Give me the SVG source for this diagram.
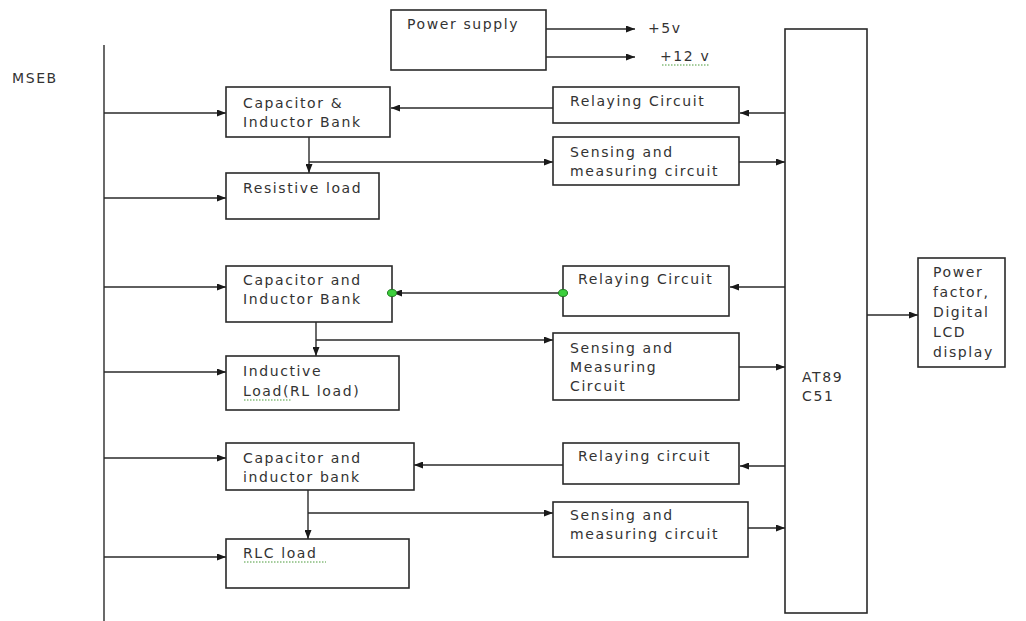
<svg xmlns="http://www.w3.org/2000/svg" width="1026" height="621" viewBox="0 0 1026 621">
<style>
.box{fill:#fff;stroke:#2a2a2a;stroke-width:1.6}
.t{font-family:"DejaVu Sans",sans-serif;font-size:14px;letter-spacing:1.6px;fill:#333}
.c{stroke:#2a2a2a;stroke-width:1.4;fill:none}
.arr{marker-end:url(#ah)}
.sq{stroke:#4a9a3a;stroke-width:1;stroke-dasharray:1.5 1.5;fill:none}
.dot{fill:#3ccf3c;stroke:#1f7a1f;stroke-width:1}
</style>
<defs>
<marker id="ah" markerWidth="9" markerHeight="7" refX="9" refY="3.5" orient="auto" markerUnits="userSpaceOnUse">
<path d="M0,0 L9,3.5 L0,7 Z" fill="#1a1a1a"/>
</marker>
</defs>
<rect width="1026" height="621" fill="#fff"/>
<text class="t" x="12" y="83">MSEB</text>
<g id="connectors">
<line class="c" x1="104" y1="45" x2="104" y2="621" stroke-width="2"/>
<line class="c arr" x1="104" y1="113" x2="226" y2="113"/>
<line class="c arr" x1="104" y1="198" x2="226" y2="198"/>
<line class="c arr" x1="104" y1="287" x2="226" y2="287"/>
<line class="c arr" x1="104" y1="372" x2="226" y2="372"/>
<line class="c arr" x1="104" y1="458" x2="226" y2="458"/>
<line class="c arr" x1="104" y1="557" x2="226" y2="557"/>
<line class="c arr" x1="546" y1="29" x2="635" y2="29"/>
<line class="c arr" x1="546" y1="57" x2="635" y2="57"/>
<line class="c arr" x1="553" y1="108" x2="391" y2="108"/>
<line class="c arr" x1="785" y1="113" x2="740" y2="113"/>
<line class="c arr" x1="309" y1="137" x2="309" y2="173"/>
<line class="c arr" x1="309" y1="162" x2="553" y2="162"/>
<line class="c arr" x1="739" y1="162" x2="785" y2="162"/>
<line class="c arr" x1="563" y1="293" x2="393" y2="293"/>
<line class="c arr" x1="785" y1="287" x2="730" y2="287"/>
<line class="c arr" x1="316" y1="322" x2="316" y2="356"/>
<line class="c arr" x1="316" y1="340" x2="553" y2="340"/>
<line class="c arr" x1="739" y1="367" x2="785" y2="367"/>
<line class="c arr" x1="563" y1="465" x2="414" y2="465"/>
<line class="c arr" x1="785" y1="466" x2="740" y2="466"/>
<line class="c arr" x1="308" y1="490" x2="308" y2="539"/>
<line class="c arr" x1="308" y1="513" x2="553" y2="513"/>
<line class="c arr" x1="748" y1="528" x2="785" y2="528"/>
<line class="c arr" x1="867" y1="315" x2="918" y2="315"/>
</g>
<g id="power-supply">
<rect class="box" x="391" y="10" width="155" height="60"/>
<text class="t" x="407" y="29">Power supply</text>
</g>
<g id="v5"><text class="t" x="648" y="33">+5v</text></g>
<g id="v12"><text class="t" x="660" y="61">+12 v</text><line class="sq" x1="662" y1="65" x2="710" y2="65"/></g>
<g id="cap1">
<rect class="box" x="226" y="87" width="164" height="50"/>
<text class="t" x="243" y="108">Capacitor &amp;</text>
<text class="t" x="243" y="127">Inductor Bank</text>
</g>
<g id="res">
<rect class="box" x="226" y="173" width="153" height="46"/>
<text class="t" x="243" y="193">Resistive load</text>
</g>
<g id="relay1">
<rect class="box" x="553" y="87" width="186" height="36"/>
<text class="t" x="570" y="106">Relaying Circuit</text>
</g>
<g id="sense1">
<rect class="box" x="553" y="137" width="186" height="48"/>
<text class="t" x="570" y="157">Sensing and</text>
<text class="t" x="570" y="176">measuring circuit</text>
</g>
<g id="cap2">
<rect class="box" x="226" y="266" width="166" height="56"/>
<text class="t" x="243" y="285">Capacitor and</text>
<text class="t" x="243" y="304">Inductor Bank</text>
</g>
<g id="ind">
<rect class="box" x="226" y="356" width="173" height="54"/>
<text class="t" x="243" y="376">Inductive</text>
<text class="t" x="243" y="396">Load(RL load)</text>
<line class="sq" x1="244" y1="400" x2="292" y2="400"/>
</g>
<g id="relay2">
<rect class="box" x="563" y="266" width="166" height="50"/>
<text class="t" x="578" y="284">Relaying Circuit</text>
</g>
<g id="sense2">
<rect class="box" x="553" y="333" width="186" height="67"/>
<text class="t" x="570" y="353">Sensing and</text>
<text class="t" x="570" y="372">Measuring</text>
<text class="t" x="570" y="391">Circuit</text>
</g>
<g id="cap3">
<rect class="box" x="226" y="443" width="188" height="47"/>
<text class="t" x="243" y="463">Capacitor and</text>
<text class="t" x="243" y="482">inductor bank</text>
</g>
<g id="rlc">
<rect class="box" x="226" y="539" width="183" height="49"/>
<text class="t" x="243" y="558">RLC load</text>
<line class="sq" x1="244" y1="562" x2="326" y2="562"/>
</g>
<g id="relay3">
<rect class="box" x="563" y="443" width="176" height="41"/>
<text class="t" x="578" y="461">Relaying circuit</text>
</g>
<g id="sense3">
<rect class="box" x="553" y="502" width="195" height="55"/>
<text class="t" x="570" y="520">Sensing and</text>
<text class="t" x="570" y="539">measuring circuit</text>
</g>
<g id="at89">
<rect class="box" x="785" y="29" width="82" height="584"/>
<text class="t" x="802" y="382">AT89</text>
<text class="t" x="802" y="401">C51</text>
</g>
<g id="pf">
<rect class="box" x="918" y="258" width="87" height="109"/>
<text class="t" x="933" y="277">Power</text>
<text class="t" x="933" y="297">factor,</text>
<text class="t" x="933" y="317">Digital</text>
<text class="t" x="933" y="337">LCD</text>
<text class="t" x="933" y="357">display</text>
</g>
<g id="junctions">
<ellipse class="dot" cx="392" cy="293" rx="4.5" ry="3.5"/>
<ellipse class="dot" cx="563" cy="293" rx="4.5" ry="3.5"/>
</g>
</svg>
